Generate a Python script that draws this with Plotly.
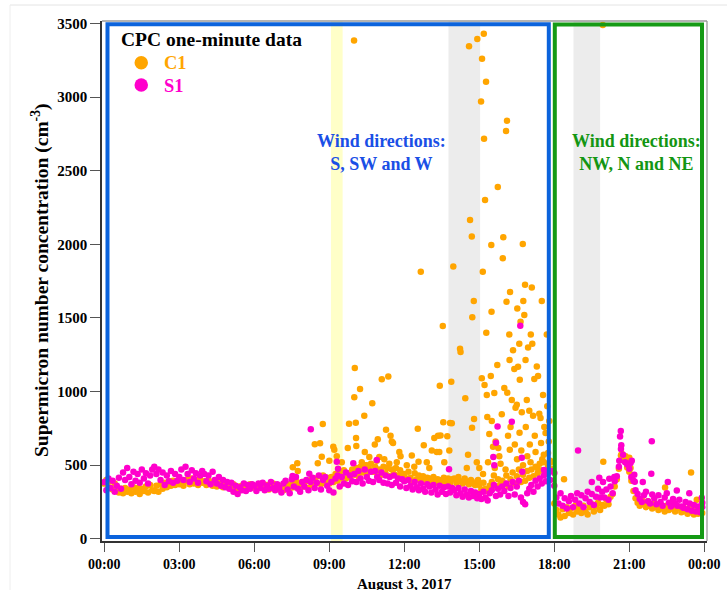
import numpy as np
import pandas as pd
import plotly.graph_objects as go

# ---------------- data ----------------
# 5-minute readings, one row per hour 00:00 ... 23:55, August 3, 2017
c1_values = [
    375, 400, 350, 390, 335, 375, 330, 315, 340, 310, 345, 320,   # 00
    335, 310, 350, 320, 345, 305, 340, 325, 355, 315, 365, 330,   # 01
    325, 360, 320, 370, 340, 380, 350, 390, 360, 395, 365, 385,   # 02
    370, 400, 360, 395, 405, 370, 410, 375, 400, 365, 405, 380,   # 03
    390, 365, 400, 380, 360, 395, 355, 385, 365, 350, 380, 360,   # 04
    360, 340, 370, 345, 355, 330, 360, 340, 365, 345, 370, 350,   # 05
    355, 340, 365, 350, 375, 345, 365, 335, 360, 375, 345, 355,   # 06
    335, 360, 330, 355, 370, 340, 375, 350, 390, 360, 345, 385,   # 07
    355, 390, 345, 400, 365, 410, 380, 425, 370, 430, 385, 415,   # 08
    375, 420, 385, 440, 395, 450, 415, 465, 410, 445, 420, 470,   # 09
    435, 480, 425, 490, 450, 500, 440, 475, 510, 455, 490, 445,   # 10
    470, 435, 490, 445, 480, 425, 470, 440, 480, 430, 465, 435,   # 11
    440, 410, 455, 415, 395, 445, 405, 430, 395, 425, 390, 415,   # 12
    410, 385, 420, 380, 405, 375, 400, 415, 385, 410, 380, 405,   # 13
    410, 380, 420, 390, 375, 410, 385, 370, 400, 375, 365, 390,   # 14
    365, 335, 380, 340, 325, 360, 385, 430, 355, 405, 365, 395,   # 15
    375, 430, 355, 405, 450, 375, 425, 470, 385, 435, 395, 460,   # 16
    415, 470, 425, 490, 445, 510, 465, 520, 455, 495, 530, 475,   # 17
    240, 195, 165, 145, 200, 155, 215, 175, 205, 165, 225, 185,   # 18
    205, 175, 225, 185, 165, 215, 235, 185, 220, 245, 195, 230,   # 19
    225, 265, 235, 285, 305, 355, 405, 475, 565, 545, 525, 485,   # 20
    455, 395, 325, 275, 245, 225, 265, 235, 215, 255, 225, 205,   # 21
    245, 215, 195, 235, 205, 185, 225, 195, 235, 205, 185, 220,   # 22
    205, 180, 215, 185, 170, 205, 180, 165, 195, 170, 205, 175,   # 23
]
s1_values = [
    385, 330, 410, 345, 395, 320, 360, 415, 340, 450, 400, 480,   # 00
    420, 370, 455, 395, 440, 380, 470, 410, 445, 375, 430, 470,   # 01
    490, 440, 470, 400, 450, 365, 430, 390, 460, 380, 440, 395,   # 02
    420, 470, 400, 490, 440, 385, 465, 410, 445, 380, 430, 460,   # 03
    440, 390, 430, 370, 455, 400, 375, 420, 360, 400, 350, 385,   # 04
    340, 380, 320, 360, 305, 350, 330, 375, 325, 365, 340, 370,   # 05
    360, 325, 375, 345, 380, 330, 360, 340, 385, 345, 330, 370,   # 06
    345, 315, 375, 395, 335, 310, 405, 355, 420, 340, 320, 385,   # 07
    355, 400, 330, 385, 415, 345, 380, 430, 335, 400, 420, 360,   # 08
    330, 385, 315, 410, 430, 355, 420, 375, 450, 365, 430, 390,   # 09
    440, 385, 460, 410, 375, 470, 420, 395, 455, 385, 460, 420,   # 10
    400, 450, 380, 430, 375, 420, 365, 430, 380, 410, 355, 405,   # 11
    390, 345, 400, 360, 335, 385, 350, 330, 375, 340, 320, 370,   # 12
    355, 315, 365, 335, 300, 360, 320, 350, 305, 355, 315, 345,   # 13
    330, 295, 345, 310, 285, 335, 300, 280, 325, 290, 315, 275,   # 14
    305, 270, 320, 280, 260, 310, 330, 365, 290, 340, 300, 355,   # 15
    325, 375, 290, 345, 385, 300, 355, 395, 280, 250, 235, 310,   # 16
    340, 365, 320, 395, 355, 410, 375, 430, 390, 445, 400, 460,   # 17
    360, 280, 240, 310, 225, 275, 205, 255, 290, 215, 265, 310,   # 18
    240, 295, 215, 275, 320, 250, 305, 230, 285, 340, 280, 320,   # 19
    280, 335, 265, 355, 310, 390, 425, 490, 610, 570, 520, 505,   # 20
    475, 420, 395, 330, 305, 270, 250, 295, 320, 255, 240, 300,   # 21
    275, 235, 295, 250, 225, 280, 310, 245, 220, 270, 240, 225,   # 22
    265, 220, 210, 250, 200, 240, 190, 230, 185, 220, 180, 215,   # 23
]

# isolated one-minute readings away from the main band (hour of day, value)
c1_extra_hours = [
    7.54, 7.72, 7.74, 8.42, 8.54, 8.63, 8.70, 8.74,
    9.00, 9.16, 9.20, 9.30, 9.50, 9.74, 9.79, 9.99,
    10.00, 10.02, 10.06, 10.07, 10.08, 10.23, 10.30, 10.40, 10.42, 10.50, 10.60, 10.72, 10.82, 10.90, 10.94, 11.00,
    11.10, 11.20, 11.27, 11.36, 11.40, 11.45, 11.50, 11.55, 11.70, 11.80, 11.85,
    12.10, 12.30, 12.40, 12.54, 12.57, 12.66, 12.78, 12.90,
    13.00, 13.10, 13.20, 13.30, 13.35, 13.40, 13.42, 13.45, 13.54, 13.56, 13.60, 13.72, 13.80, 13.83, 13.88, 13.90, 13.96,
    14.23, 14.25, 14.44, 14.50, 14.55, 14.59, 14.63, 14.70, 14.71, 14.72, 14.78, 14.79, 14.90, 14.92, 14.95,
    15.00, 15.07, 15.10, 15.11, 15.14, 15.15, 15.18, 15.19, 15.21, 15.23, 15.27, 15.28, 15.30, 15.32, 15.35, 15.40,
    15.46, 15.48, 15.49, 15.50, 15.55, 15.60, 15.62, 15.65, 15.72, 15.74, 15.76, 15.80, 15.85, 15.90,
    15.94, 15.96, 16.00, 16.05, 16.07, 16.09, 16.11, 16.12, 16.15, 16.20, 16.21, 16.22, 16.23, 16.25, 16.30, 16.35,
    16.40, 16.42, 16.45, 16.50, 16.51, 16.52, 16.55, 16.60, 16.61, 16.62, 16.65, 16.68, 16.70, 16.74, 16.75, 16.76,
    16.80, 16.83, 16.85, 16.86, 16.90, 16.92, 16.95,
    17.00, 17.02, 17.05, 17.06, 17.10, 17.12, 17.15, 17.20, 17.22, 17.25, 17.30, 17.32, 17.35, 17.40, 17.45, 17.47,
    17.50, 17.52, 17.55, 17.58, 17.60, 17.65, 17.67, 17.70, 17.72, 17.75, 17.78, 17.80, 17.85,
    18.39, 19.94, 19.96, 20.70, 20.85, 21.00, 21.05, 21.10, 22.43, 23.47, 23.70,
]
c1_extra_values = [
    486, 513, 461, 642, 513, 649, 558, 780,
    530, 626, 604, 560, 520, 617, 782, 3385,
    961, 1160, 789, 685, 630, 1017, 520, 836, 590, 500, 556, 920, 640, 530, 676, 556,
    1083, 540, 741, 1103, 510, 700, 660, 650, 520, 590, 560,
    500, 565, 490, 748, 524, 1813, 636, 520,
    480, 600, 685, 590, 700, 590, 1040, 701, 1445, 791, 520, 697, 600, 787, 1067, 785, 1850,
    1290, 1268, 954, 480, 570, 3346, 2166, 2053, 755, 1504, 1616, 814, 520, 3394, 400,
    480, 2971, 1090, 3260, 1813, 440, 3430, 2718, 1045, 2301, 3104, 1400, 977, 827, 520, 712,
    1105, 1996, 1542, 800, 626, 990, 480, 660, 1180, 2390, 617, 560, 510, 846,
    1906, 2048, 1024, 470, 2770, 1610, 2840, 992, 700, 1388, 1215, 604, 1677, 760, 943, 1280,
    1153, 640, 890, 910, 540, 1565, 1168, 1325, 720, 1080, 1474, 600, 860, 2003, 500, 1616,
    1520, 1725, 1215, 760, 943, 560, 1300,
    870, 640, 520, 1388, 1707, 1325, 835, 1085, 700, 590, 1170, 480, 1105, 850, 820, 650,
    1616, 540, 977, 570, 760, 718, 460, 1388, 900, 583, 660, 800, 520,
    405, 3490, 524, 577, 560, 550, 480, 420, 348, 450, 265,
]
s1_extra_hours = [
    7.53, 8.20, 8.26, 9.30, 9.35, 9.96, 10.90, 13.79, 15.56, 15.60, 15.67, 15.73,
    16.30, 16.64, 16.70, 16.72, 17.59, 18.00, 18.95, 19.50, 19.80, 19.95, 20.20, 20.40,
    20.60, 20.63, 20.66, 20.68, 21.05, 21.10, 21.20, 21.22, 21.54, 21.88, 21.90, 22.54,
    22.90, 23.40, 23.90, 23.92,
]
s1_extra_values = [
    427, 441, 744, 524, 475, 513, 536, 472, 556, 500, 653, 762,
    795, 1447, 550, 455, 468, 447, 599, 385, 415, 385, 407, 420,
    530, 694, 733, 635, 515, 530, 435, 387, 385, 441, 663, 385,
    328, 310, 278, 244,
]

y_ticks = [0, 500, 1000, 1500, 2000, 2500, 3000, 3500]

# shaded periods (start, end) as clock times
yellow_period = ("09:04", "09:32")
grey_periods = [("13:46", "15:02"), ("18:46", "19:50")]

# ---------------- build ----------------
day = pd.Timestamp("2017-08-03")
grid = pd.date_range(day, periods=len(c1_values), freq="5min")

c1_x = list(grid) + list(day + pd.to_timedelta(c1_extra_hours, unit="h"))
c1_y = list(c1_values) + list(c1_extra_values)
s1_x = list(grid) + list(day + pd.to_timedelta(s1_extra_hours, unit="h"))
s1_y = list(s1_values) + list(s1_extra_values)

ORANGE = "#ffa500"
MAGENTA = "#ff00cc"
BLUE = "#0b63dc"
GREEN = "#159a15"
FONT = "Liberation Serif"

fig = go.Figure()
fig.add_trace(go.Scatter(x=c1_x, y=c1_y, mode="markers", name="C1",
                         marker=dict(color=ORANGE, size=6.5, line=dict(width=0))))
fig.add_trace(go.Scatter(x=s1_x, y=s1_y, mode="markers", name="S1",
                         marker=dict(color=MAGENTA, size=6.5, line=dict(width=0))))

def t(s):
    return day + pd.Timedelta(hours=int(s[:2]), minutes=int(s[3:]))

shapes = []
shapes.append(dict(type="rect", xref="x", yref="paper", x0=t(yellow_period[0]), x1=t(yellow_period[1]),
                   y0=0, y1=1, fillcolor="#ffffc8", line=dict(width=0), layer="below"))
for a, b in grey_periods:
    shapes.append(dict(type="rect", xref="x", yref="paper", x0=t(a), x1=t(b),
                       y0=0, y1=1, fillcolor="#ececec", line=dict(width=0), layer="below"))

W, H = 605.0, 520.0
L, T = 102.0, 21.0
def px(xp): return (xp - L) / W
def py(yp): return (T + H - yp) / H

# wind-sector boxes
shapes.append(dict(type="rect", xref="paper", yref="paper", x0=px(107.5), x1=px(548.8),
                   y0=py(537), y1=py(24.3), line=dict(color=BLUE, width=4)))
shapes.append(dict(type="rect", xref="paper", yref="paper", x0=px(554.8), x1=px(702),
                   y0=py(537), y1=py(24.6), line=dict(color=GREEN, width=4)))
# top/right frame
shapes.append(dict(type="line", xref="paper", yref="paper", x0=0, x1=1, y0=1, y1=1,
                   line=dict(color="#9a9a9a", width=1.3)))
shapes.append(dict(type="line", xref="paper", yref="paper", x0=1, x1=1, y0=0, y1=1,
                   line=dict(color="#9a9a9a", width=1.3)))
# outer faint container
shapes.append(dict(type="line", xref="paper", yref="paper", x0=px(10), x1=px(727), y0=py(5), y1=py(5),
                   line=dict(color="#e4e4e4", width=1)))
shapes.append(dict(type="line", xref="paper", yref="paper", x0=px(10), x1=px(10), y0=py(5), y1=py(590),
                   line=dict(color="#eeeeee", width=1)))
# legend markers
for cy, col in [(62.7, ORANGE), (85.0, MAGENTA)]:
    shapes.append(dict(type="circle", xref="paper", yref="paper", x0=px(134.5), x1=px(148),
                       y0=py(cy + 6.8), y1=py(cy - 6.8), fillcolor=col, line=dict(width=0)))

annotations = [
    dict(text="<b>CPC one-minute data</b>", x=px(119), y=py(40), xanchor="left", yanchor="middle",
         font=dict(family=FONT, size=19.5, color="black")),
    dict(text="<b>C1</b>", x=px(162), y=py(63), xanchor="left", yanchor="middle",
         font=dict(family=FONT, size=18.5, color=ORANGE)),
    dict(text="<b>S1</b>", x=px(162), y=py(85.5), xanchor="left", yanchor="middle",
         font=dict(family=FONT, size=18.5, color=MAGENTA)),
    dict(text="<b>Wind directions:<br>S, SW and W</b>", x=px(381), y=py(152), xanchor="center",
         yanchor="middle", align="center", font=dict(family=FONT, size=18, color="#1a4fe6")),
    dict(text="<b>Wind directions:<br>NW, N and NE</b>", x=px(636), y=py(152), xanchor="center",
         yanchor="middle", align="center", font=dict(family=FONT, size=18, color="#139613")),
    dict(text="<b>Supermicron number concentration (cm<sup>-3</sup>)</b>", x=px(40), y=py(280),
         textangle=-90, xanchor="center", yanchor="middle",
         font=dict(family=FONT, size=19.5, color="black")),
    dict(text="<b>August 3, 2017</b>", x=0.5, y=py(584), xanchor="center", yanchor="middle",
         font=dict(family=FONT, size=15, color="black")),
]
for a in annotations:
    a.update(xref="paper", yref="paper", showarrow=False)

fig.update_layout(
    width=727, height=590,
    margin=dict(l=102, r=20, t=21, b=49, autoexpand=False),
    paper_bgcolor="white", plot_bgcolor="white",
    showlegend=False,
    shapes=shapes, annotations=annotations,
    font=dict(family=FONT, color="black"),
)
fig.update_xaxes(
    type="date",
    range=[day - pd.Timedelta(minutes=5.5), day + pd.Timedelta(hours=24, minutes=6.5)],
    tickmode="array",
    tickvals=list(pd.date_range(day, periods=9, freq="3h")),
    ticktext=["<b>%s</b>" % s.strftime("%H:%M") for s in pd.date_range(day, periods=9, freq="3h")],
    ticks="outside", ticklen=9, tickwidth=1.3, tickcolor="#555",
    showline=True, linecolor="#333", linewidth=1.5, showgrid=False, zeroline=False,
    tickfont=dict(family=FONT, size=14, color="black"),
)
fig.update_yaxes(
    range=[-15, 3517],
    tickmode="array", tickvals=y_ticks, ticktext=["<b>%d</b>" % v for v in y_ticks],
    ticks="outside", ticklen=10, tickwidth=1.3, tickcolor="#555",
    showline=True, linecolor="#333", linewidth=1.5, showgrid=False, zeroline=False,
    tickfont=dict(family=FONT, size=15, color="black"),
)

fig.write_html("out.html")
